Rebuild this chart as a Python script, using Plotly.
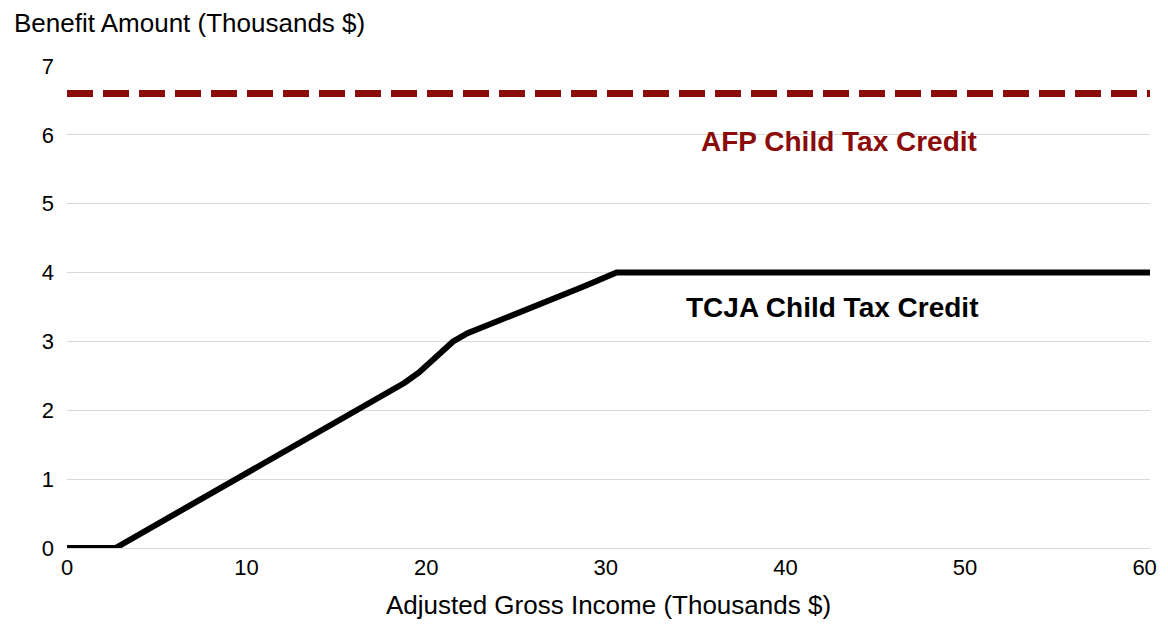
import plotly.graph_objects as go

tcja_x = [0, 2.7, 18.8, 19.6, 21.5, 22.3, 28.8, 29.8, 30.6, 60.3]
tcja_y = [0, 0, 2.4, 2.55, 3.0, 3.12, 3.8, 3.92, 4.0, 4.0]
afp_x = [0, 60.3]
afp_y = [6.6, 6.6]

fig = go.Figure()
fig.add_trace(go.Scatter(x=afp_x, y=afp_y, mode="lines",
                         line=dict(color="#8B0A0A", width=7, dash="26px,10px"), showlegend=False))
fig.add_trace(go.Scatter(x=tcja_x, y=tcja_y, mode="lines",
                         line=dict(color="black", width=6), showlegend=False))
fig.add_annotation(x=43.0, y=5.9, text="<b>AFP Child Tax Credit</b>", showarrow=False,
                   font=dict(size=28, color="#8B0A0A"))
fig.add_annotation(x=42.6, y=3.5, text="<b>TCJA Child Tax Credit</b>", showarrow=False,
                   font=dict(size=28, color="black"))
fig.add_annotation(x=0, xref="paper", xanchor="left", y=1, yref="paper", yanchor="bottom",
                   yshift=26, xshift=-55, text="Benefit Amount (Thousands $)", showarrow=False,
                   font=dict(size=26, color="black"))
fig.update_layout(
    width=1168, height=633, plot_bgcolor="white", paper_bgcolor="white",
    margin=dict(l=59, r=26, t=58, b=93),
    font=dict(family="Liberation Sans, Arial", size=22, color="black"),
    xaxis=dict(range=[0, 60.3], tickvals=[0, 10, 20, 30, 40, 50, 60], showgrid=False,
               showline=True, linecolor="#d9d9d9", linewidth=1, ticks="", zeroline=False,
               title=dict(text="Adjusted Gross Income (Thousands $)", standoff=16)),
    yaxis=dict(range=[0, 7], tickvals=list(range(8)), showgrid=True, gridcolor="#d9d9d9",
               zeroline=False, ticks="", ticklabelstandoff=12),
)
fig.write_html("out.html")
